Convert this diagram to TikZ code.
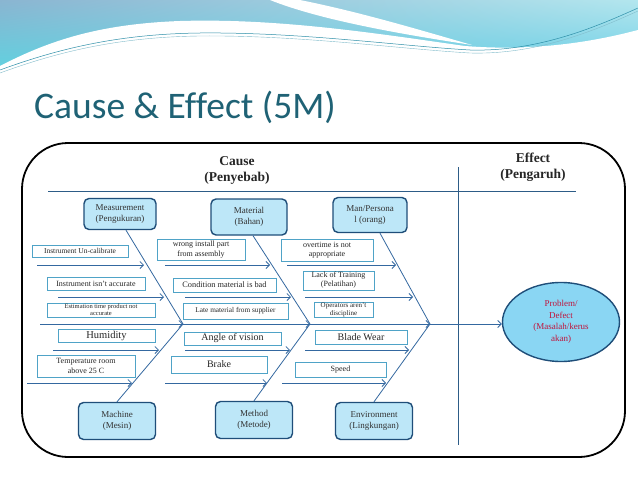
\documentclass[tikz,border=0pt]{standalone}
\usepackage{fontspec}
\setmainfont{Liberation Serif}
\newfontfamily\titlefont[Ligatures=NoCommon]{Carlito}
\usepackage{tikz}
\usetikzlibrary{arrows.meta,positioning,shapes.geometric,shadings}
\definecolor{titleteal}{HTML}{1F6275}
\definecolor{boxline}{HTML}{1F4E79}
\definecolor{catfill}{HTML}{BDE7F8}
\definecolor{effectfill}{HTML}{8AD6F3}
\definecolor{boneblue}{HTML}{3468A0}
\definecolor{labline}{HTML}{4FA3C7}
\definecolor{problemred}{HTML}{C0143C}
\definecolor{divline}{HTML}{2D5C87}
\definecolor{waveul}{HTML}{8AB5D1}
\definecolor{waveur}{HTML}{B3E6EE}
\definecolor{wavell}{HTML}{5FD2E0}
\definecolor{wavelr}{HTML}{6CCFE6}
\definecolor{waveline}{HTML}{2E8FA8}
\tikzset{
  catbox/.style={draw=boxline, line width=1.4pt, rounded corners=5pt, fill=catfill, align=center, inner sep=0pt, text=black!80, font=\fontsize{9}{11}\selectfont},
  cause/.style={draw=labline, line width=0.7pt, fill=white, align=center, inner sep=0pt, text=black!85},
  heading/.style={align=center, inner sep=0pt, text=black!85, font=\bfseries\fontsize{13.5}{16}\selectfont},
  problem/.style={ellipse, draw=boxline, line width=1.4pt, fill=effectfill, align=center, inner sep=0pt, text=problemred, font=\fontsize{9}{11.5}\selectfont},
  bone/.style={draw=boneblue, line width=0.8pt},
  subarrow/.style={-{Straight Barb[length=3.5pt,width=7pt]}, draw=boneblue, line width=0.8pt}
}

\begin{document}
\begin{tikzpicture}[x=1pt,y=-1pt]
  \useasboundingbox (0,0) rectangle (638,479);
  \fill[white] (0,0) rectangle (638,479);

  % top wave
  \shade[upper left=waveul, upper right=waveur, lower left=wavell, lower right=wavelr] (0,0) rectangle (638,72);
  \fill[white] (0,66) .. controls (50,40) and (100,24) .. (180,21) .. controls (280,18) and (380,34) .. (465,46)
    .. controls (540,52) and (600,40) .. (638,30) -- (638,479) -- (0,479) -- cycle;
  \fill[white] (300,0) .. controls (360,12) and (420,30) .. (472,45) .. controls (400,34) and (320,20) .. (270,0) -- cycle;
  \draw[waveline, line width=0.5pt] (0,70) .. controls (60,48) and (120,34) .. (200,33) .. controls (300,32) and (400,46) .. (470,50) .. controls (540,52) and (600,25) .. (638,8);
  \draw[waveline!60, line width=0.4pt] (0,73) .. controls (60,51) and (120,37) .. (200,36) .. controls (300,35) and (400,49) .. (470,53) .. controls (540,55) and (600,28) .. (638,11);

  \node[anchor=base west, inner sep=0pt, text=titleteal, font=\titlefont\fontsize{37.5}{40}\selectfont] (title) at (34,118) {Cause \& Effect (5M)};

  % frame and dividers
  \draw[line width=1.8pt, rounded corners=46pt] (22,143) rectangle (625,457);
  \draw[divline, line width=1pt] (48,191) -- (576,191);
  \draw[divline, line width=1pt] (458,167) -- (458,445);
  \node[heading] (causehead) at (237,170) {Cause\\(Penyebab)};
  \node[heading] (effecthead) at (533,167) {Effect\\(Pengaruh)};

  % the 6 M boxes
  \node[catbox, minimum width=72pt, minimum height=31pt] (meas) at (120,214) {Measurement\\(Pengukuran)};
  \node[catbox, minimum width=76pt, minimum height=36pt] (matl) at (249,217) {Material\\(Bahan)};
  \node[catbox, minimum width=74pt, minimum height=35pt] (man) at (370,215) {Man/Persona\\l (orang)};
  \node[catbox, minimum width=77pt, minimum height=37pt] (mach) at (117,421) {Machine\\(Mesin)};
  \node[catbox, minimum width=77pt, minimum height=37pt] (meth) at (254,420) {Method\\(Metode)};
  \node[catbox, minimum width=77pt, minimum height=37pt] (env) at (374,421) {Environment\\(Lingkungan)};

  \node[problem, minimum width=117pt, minimum height=79pt] (effect) at (561,322) {Problem/\\Defect\\(Masalah/kerus\\akan)};

  % spine
  \coordinate (tail) at (40,324);
  \coordinate (j1) at (183,324);
  \coordinate (j2) at (310,324);
  \coordinate (j3) at (430,324);
  \draw[subarrow] (tail) -- (j1);
  \draw[subarrow] (j1) -- (j2);
  \draw[subarrow] (j2) -- (j3);
  \draw[subarrow] (j3) -- (j3 -| effect.west);

  % bones
  \draw[bone] ([xshift=6pt]meas.south) -- (j1);
  \draw[bone] (mach.north) -- (j1);
  \draw[bone] ([xshift=4pt]matl.south) -- (j2);
  \draw[bone] (meth.north) -- (j2);
  \draw[bone] ([xshift=10pt]man.south) -- (j3);
  \draw[bone] (env.north) -- (j3);

  % sub cause arrows
  \foreach \n/\xa/\xb/\y in {a/37/144/265, b/58/164/297, c/53/159/350, d/27/132/383,
                            e/165/270/265, f/185/291/297, g/185/290/350, h/165/267/383,
                            i/287/396/265, k/305/413/297, l/305/409/350, m/282/386/383}
  {
    \coordinate (\n-s) at (\xa,\y);
    \coordinate (\n-e) at (\xb,\y);
    \draw[subarrow] (\n-s) -- (\n-e);
  }

  % sub causes
  \node[cause, minimum width=96pt, minimum height=12pt, font=\fontsize{7.5}{8.5}\selectfont] (uncal) at (80,251) {Instrument Un-calibrate};
  \node[cause, minimum width=98pt, minimum height=13pt, font=\fontsize{8}{9}\selectfont] (inacc) at (96,283.5) {Instrument isn't accurate};
  \node[cause, minimum width=108pt, minimum height=14pt, font=\fontsize{6.5}{7}\selectfont] (estim) at (101,310) {Estimation time product not\\accurate};
  \node[cause, minimum width=97pt, minimum height=13pt, font=\fontsize{10.5}{12}\selectfont] (humid) at (106.5,335.5) {Humidity};
  \node[cause, minimum width=98pt, minimum height=22pt, font=\fontsize{8}{9.5}\selectfont] (temp) at (86,366) {Temperature room\\above 25 C};

  \node[cause, minimum width=88pt, minimum height=21pt, font=\fontsize{8}{9.5}\selectfont] (wrong) at (201,249.5) {wrong install part\\from assembly};
  \node[cause, minimum width=103pt, minimum height=14pt, font=\fontsize{8.3}{9}\selectfont] (cond) at (224.5,285) {Condition material is bad};
  \node[cause, minimum width=105pt, minimum height=16pt, font=\fontsize{7.3}{8}\selectfont] (late) at (235.5,311) {Late material from supplier};
  \node[cause, minimum width=97pt, minimum height=13pt, font=\fontsize{10}{12}\selectfont] (angle) at (232.5,338.5) {Angle of vision};
  \node[cause, minimum width=96pt, minimum height=17pt, font=\fontsize{10}{12}\selectfont] (brake) at (219,364.5) {Brake};

  \node[cause, minimum width=92pt, minimum height=22pt, font=\fontsize{8}{9.5}\selectfont] (overt) at (327,250) {overtime is not\\appropriate};
  \node[cause, minimum width=71pt, minimum height=19pt, font=\fontsize{8}{9}\selectfont] (train) at (338.5,280.5) {Lack of Training\\(Pelatihan)};
  \node[cause, minimum width=59pt, minimum height=15pt, font=\fontsize{7}{8}\selectfont] (disc) at (343.5,309.5) {Operators aren't\\discipline};
  \node[cause, minimum width=92pt, minimum height=14pt, font=\fontsize{10}{12}\selectfont] (blade) at (361,337) {Blade Wear};
  \node[cause, minimum width=91pt, minimum height=15pt, font=\fontsize{8}{9}\selectfont] (speed) at (340.5,369.5) {Speed};
\end{tikzpicture}
\end{document}
